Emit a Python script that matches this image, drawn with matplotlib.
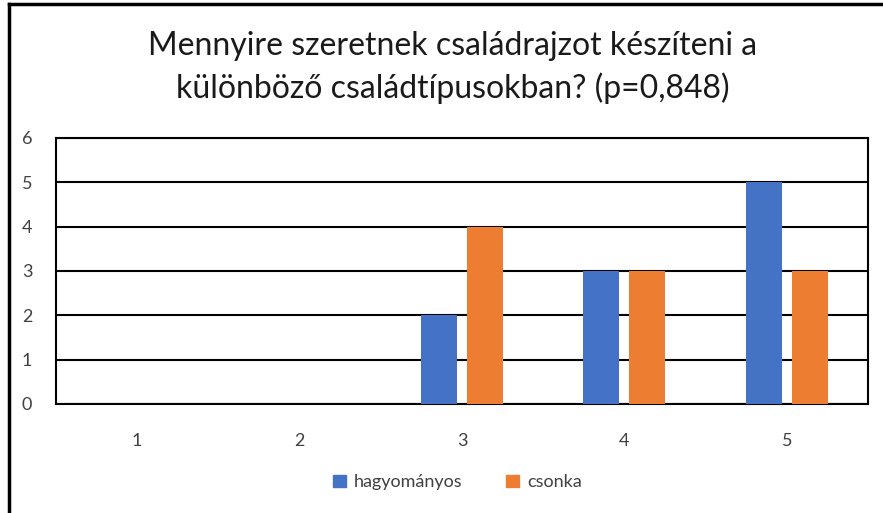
import matplotlib.pyplot as plt
import numpy as np
from matplotlib.lines import Line2D
from matplotlib.patches import Patch

plt.rcParams['font.family'] = ['Lato', 'DejaVu Sans']

categories = ['1', '2', '3', '4', '5']
hagyomanyos = [0, 0, 2, 3, 5]
csonka = [0, 0, 4, 3, 3]
series_names = ['hagyományos', 'csonka']
title = 'Mennyire szeretnek családrajzot készíteni a\nkülönböző családtípusokban? (p=0,848)'

blue = '#4472C4'
orange = '#ED7D31'

fig = plt.figure(figsize=(8.83, 5.13), dpi=100)
ax = fig.add_axes([0.0634, 0.2125, 0.9196, 0.5185])

x = np.arange(len(categories))
w = 0.222
off = 0.1416
ax.bar(x - off, hagyomanyos, w, color=blue, zorder=3)
ax.bar(x + off, csonka, w, color=orange, zorder=3)

ax.set_xlim(-0.5, len(categories) - 0.5)
ax.set_ylim(0, 6)
ax.set_yticks(range(0, 7))
ax.set_xticks(x)
ax.set_xticklabels(categories)
ax.tick_params(length=0, labelsize=13, colors='#404040')
ax.tick_params(axis='y', pad=17)
ax.tick_params(axis='x', pad=21)
ax.yaxis.grid(True, color='black', linewidth=1.5, zorder=0)
for s in ax.spines.values():
    s.set_color('black')
    s.set_linewidth(1.5)

fig.text(0.513, 0.868, title, ha='center', va='center', fontsize=23,
         color='#1a1a1a', linespacing=1.45)

handles = [Patch(color=blue), Patch(color=orange)]
fig.legend(handles, series_names, loc='center', bbox_to_anchor=(0.518, 0.06),
           ncol=2, frameon=False, fontsize=13, handlelength=0.7, handleheight=0.7,
           handletextpad=0.45, columnspacing=2.4, labelcolor='#404040')

# outer chart border (only left and top visible)
fig.add_artist(Line2D([0.0102, 0.0102], [0, 0.992], color='black', linewidth=2.5))
fig.add_artist(Line2D([0.0102, 1], [0.992, 0.992], color='black', linewidth=2.5))

fig.savefig('out.png', dpi=100)
